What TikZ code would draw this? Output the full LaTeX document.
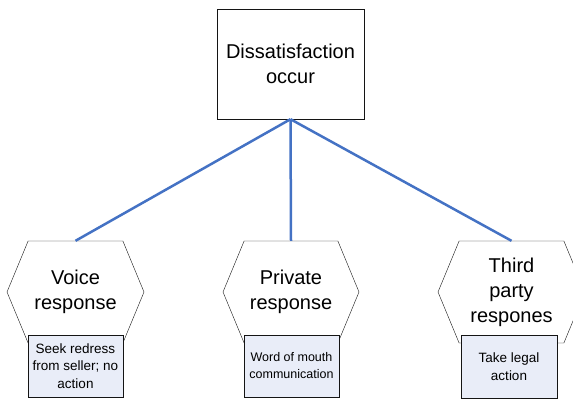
\documentclass[tikz,border=0pt]{standalone}
\usepackage{fontspec}
\setmainfont{Liberation Sans}
\usetikzlibrary{shapes.symbols}
\definecolor{linkblue}{RGB}{68, 114, 196}
\definecolor{notefill}{RGB}{233, 237, 248}
\definecolor{edgegray}{RGB}{20, 20, 20}

\begin{document}
\begin{tikzpicture}[x=1pt, y=-1pt,
    topbox/.style={draw=edgegray, fill=white, minimum width=147pt, minimum height=110pt,
        align=center, font=\fontsize{20}{25}\selectfont},
    hexbox/.style={draw=edgegray, fill=white, signal, signal to=west and east,
        signal pointer angle=135, minimum width=#1, minimum height=102pt,
        inner sep=0pt, align=center, font=\fontsize{20}{25}\selectfont},
    notebox/.style={draw=edgegray, fill=notefill, minimum width=95pt, minimum height=62pt,
        inner sep=1pt, align=center, font=\fontsize{13.5}{17.5}\selectfont},
    link/.style={draw=linkblue, line width=2.5pt}]
    \clip (0,0) rectangle (573,401);

    % Top
    \node[topbox] (occur) at (290.5,64) {Dissatisfaction\\occur};

    % Responses
    \node[hexbox=137pt] (voice) at (75.5,292) {Voice\\response};
    \node[hexbox=136pt] (private) at (291,292) {Private\\response};
    \node[hexbox=147pt] (third) at (511.5,292) {Third\\party\\respones};

    % Actions
    \node[notebox] (redress) at (75.5,366) {Seek redress\\from seller; no\\action};
    \node[notebox, font=\fontsize{12.5}{17}\selectfont] (mouth) at (291.5,366) {Word of mouth\\communication};
    \node[notebox, minimum width=96pt, minimum height=63pt] (legal) at (509,366.5) {Take legal\\action};

    % Links
    \draw[link] (occur.south) -- (voice.north);
    \draw[link] (occur.south) -- (private.north);
    \draw[link] (occur.south) -- (third.north);
\end{tikzpicture}
\end{document}
